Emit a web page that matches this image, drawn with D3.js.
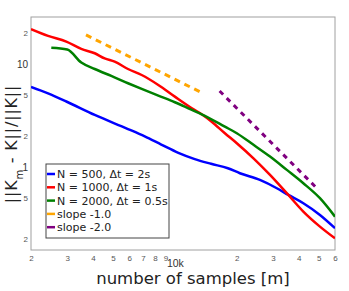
<!DOCTYPE html>
<html>
<head>
<meta charset="utf-8">
<script src="https://cdn.jsdelivr.net/npm/d3@7"></script>
<style>
  body { margin: 0; background: #fff; }
  svg { display: block; font-family: "DejaVu Sans", Verdana, sans-serif; }
</style>
</head>
<body>
<svg id="chart" width="349" height="291"></svg>
<script>
// number of samples m, and relative error ||K_m - K||/||K||
const blueM   = [2000, 2420, 2970, 4080, 5920, 7140, 8590, 10400, 12500, 15000, 18100, 20700, 25900, 31300, 35600, 42100, 50700, 60000];
const blueErr = [6.02, 5.21, 4.35, 3.22, 2.35, 1.99, 1.66, 1.38, 1.20, 1.08, 0.978, 0.874, 0.753, 0.625, 0.538, 0.447, 0.344, 0.256];

const redM   = [2000, 2420, 2970, 3510, 4080, 4560, 5100, 5920, 6900, 8310, 10000, 12100, 13500, 15100, 17500, 20000, 24100, 29000, 35600, 42100, 50700, 60000];
const redErr = [22.0, 18.9, 16.6, 14.1, 12.8, 11.4, 10.6, 9.0, 7.87, 6.30, 4.85, 3.74, 3.27, 2.77, 2.14, 1.71, 1.22, 0.842, 0.538, 0.371, 0.265, 0.204];

const greenM   = [2510, 3000, 3510, 4080, 4910, 5920, 6900, 8310, 10000, 12100, 13500, 17500, 20000, 24100, 29000, 35000, 42100, 50700, 60000];
const greenErr = [14.5, 13.9, 10.4, 9.0, 7.7, 6.54, 5.76, 4.96, 4.28, 3.60, 3.27, 2.48, 2.14, 1.65, 1.27, 0.942, 0.699, 0.500, 0.331];

// reference slopes
const slope1M = [3700, 13500];
const slope1Err = [19.3, 5.3];
const slope2M = [16500, 50000];
const slope2Err = [5.5, 0.6];

const xTicks = [2000, 3000, 4000, 5000, 6000, 7000, 8000, 9000, 10000, 20000, 30000, 40000, 50000, 60000];
const xTickLabels = ["2", "3", "4", "5", "6", "7", "8", "9", "10k", "2", "3", "4", "5", "6"];
const yTicks = [0.2, 0.5, 1, 2, 5, 10, 20];
const yTickLabels = ["2", "5", "1", "2", "5", "10", "2"];

const legendLabels = ["N = 500, \u0394t = 2s", "N = 1000, \u0394t = 1s", "N = 2000, \u0394t = 0.5s", "slope -1.0", "slope -2.0"];
const colors = ["#0000ff", "#ff0000", "#008000", "#ffa500", "#800080"];

const margin = { top: 17, right: 14, bottom: 41, left: 31 };
const W = 349, H = 291;
const width = W - margin.left - margin.right;
const height = H - margin.top - margin.bottom;

const svg = d3.select("#chart");
const g = svg.append("g").attr("transform", `translate(${margin.left},${margin.top})`);

const x = d3.scaleLog().domain([2000, 60000]).range([0, width]);
const y = d3.scaleLog().domain([0.157, 28.8]).range([height, 0]);

g.append("defs").append("clipPath").attr("id", "clip")
  .append("rect").attr("width", width).attr("height", height);

// frame
g.append("rect")
  .attr("width", width).attr("height", height)
  .attr("fill", "none").attr("stroke", "#a0a0a0").attr("stroke-width", 1);

// x axis
const xAxis = g.append("g")
  .attr("transform", `translate(0,${height})`)
  .call(d3.axisBottom(x).tickValues(xTicks).tickSize(0).tickPadding(4)
    .tickFormat((d, i) => xTickLabels[i]));
xAxis.select(".domain").remove();
xAxis.selectAll("text")
  .attr("fill", d => d === 10000 ? "#333" : "#555")
  .style("font-size", d => d === 10000 ? "10.5px" : "8px")
  .attr("dy", d => d === 10000 ? "1.25em" : "0.9em");

// y axis
const yAxis = g.append("g")
  .call(d3.axisLeft(y).tickValues(yTicks).tickSize(0).tickPadding(3)
    .tickFormat((d, i) => yTickLabels[i]));
yAxis.select(".domain").remove();
yAxis.selectAll("text")
  .attr("fill", d => (d === 1 || d === 10) ? "#333" : "#555")
  .style("font-size", d => (d === 1 || d === 10) ? "10px" : "8px");

// lines
const line = d3.line()
  .x(d => x(d[0]))
  .y(d => y(d[1]))
  .curve(d3.curveMonotoneX);

const series = [
  { m: blueM, err: blueErr, color: colors[0], dash: null },
  { m: redM, err: redErr, color: colors[1], dash: null },
  { m: greenM, err: greenErr, color: colors[2], dash: null },
  { m: slope1M, err: slope1Err, color: colors[3], dash: "6,5" },
  { m: slope2M, err: slope2Err, color: colors[4], dash: "5,5" }
];

g.append("g").attr("clip-path", "url(#clip)")
  .selectAll("path")
  .data(series)
  .join("path")
    .attr("fill", "none")
    .attr("stroke", d => d.color)
    .attr("stroke-width", d => d.dash ? 3 : 2.5)
    .attr("stroke-dasharray", d => d.dash)
    .attr("d", d => line(d.m.map((v, i) => [v, d.err[i]])));

// legend
const legend = svg.append("g").attr("transform", "translate(46,164)");
legend.append("rect")
  .attr("width", 123).attr("height", 74)
  .attr("fill", "#fff").attr("stroke", "#444").attr("stroke-width", 1);
const items = legend.selectAll("g.item")
  .data(legendLabels)
  .join("g")
    .attr("class", "item")
    .attr("transform", (d, i) => `translate(0,${10 + i * 13.3})`);
items.append("line")
  .attr("x1", 1).attr("x2", 9)
  .attr("stroke", (d, i) => colors[i])
  .attr("stroke-width", 2.5);
items.append("text")
  .attr("x", 11).attr("dy", "0.36em")
  .attr("fill", "#222")
  .style("font-size", "11px")
  .text(d => d);

// axis titles
svg.append("text")
  .attr("x", 193).attr("y", 284)
  .attr("text-anchor", "middle")
  .attr("fill", "#222")
  .style("font-size", "16.5px")
  .text("number of samples [m]");

const yLabel = svg.append("text")
  .attr("transform", "translate(17,144) rotate(-90)")
  .attr("text-anchor", "middle")
  .attr("fill", "#222")
  .style("font-size", "16px")
  .style("letter-spacing", "0.8px");
yLabel.append("tspan").text("||K");
yLabel.append("tspan").attr("baseline-shift", "sub").style("font-size", "10px").text("m");
yLabel.append("tspan").text(" - K||/||K||");
</script>
</body>
</html>
